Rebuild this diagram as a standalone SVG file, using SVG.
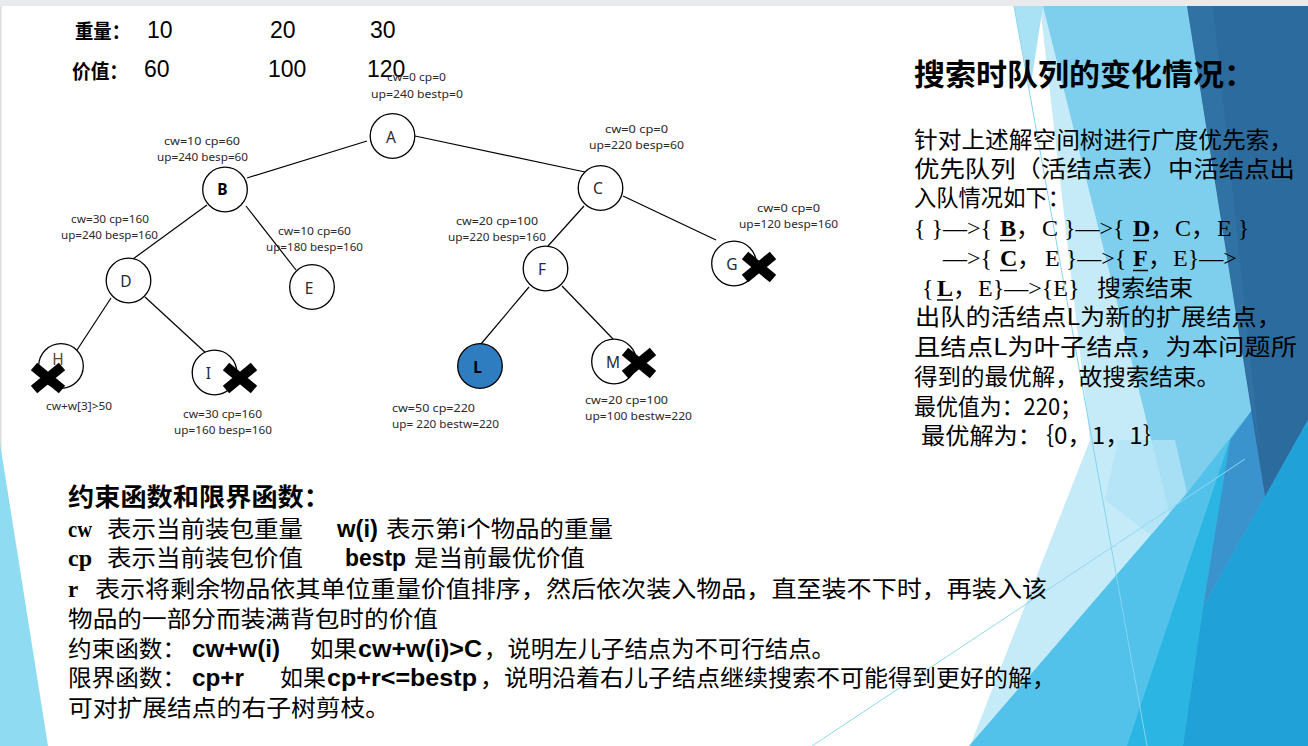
<svg xmlns="http://www.w3.org/2000/svg" xmlns:xlink="http://www.w3.org/1999/xlink" width="1308" height="746" viewBox="0 0 1308 746">
<style>
.ann{font-family:"Noto Sans","DejaVu Sans",sans-serif;font-size:11px;fill:#2a2a2a}
.lbl{font-family:"Noto Sans","DejaVu Sans",sans-serif;font-size:15.5px;fill:#262a33;text-anchor:middle}
.node circle{fill:#fff;stroke:#000;stroke-width:1.3}
.edges line{stroke:#000;stroke-width:1.2}
.cjk{font-family:"Noto Sans CJK SC",sans-serif;font-size:23px;fill:#000}
.tr{font-family:"Liberation Serif","Noto Sans CJK SC",serif;font-size:24px;fill:#000}
.sb{font-family:"Liberation Sans","Noto Sans CJK SC",sans-serif;font-weight:bold;font-size:23px;fill:#000}
.srb{font-family:"Liberation Serif",serif;font-weight:bold;font-size:23px;fill:#000}
.hd{font-family:"Noto Sans CJK SC",sans-serif;font-weight:bold;font-size:20px;fill:#000}
.num{font-family:"Liberation Sans","Noto Sans",sans-serif;font-size:23px;fill:#000}
.ul{stroke:#000;stroke-width:1.5}
</style>
<defs>
<g id="xm"><path d="M-14,-11.5 L14,11.5 M-14,11.5 L14,-11.5" stroke="#000" stroke-width="10" fill="none"/></g>
</defs>

<!-- background -->
<g id="background">
<rect x="0" y="0" width="1308" height="746" fill="#ffffff"/>
<rect x="0" y="0" width="1308" height="6" fill="#e9eaec"/>
<rect x="0" y="6" width="1.5" height="740" fill="#dcdcdc"/>
<polygon points="0,443 48,746 0,746" fill="#8fdbf2"/>
<polygon points="1040,6 1308,6 1308,746 970,746 1090,440" fill="#c6ebf8"/>
<polygon points="1014,6 1043,6 1030,90" fill="#a9e1f5"/>
<polygon points="1043,6 1187,6 1265,497 1170,515" fill="#7ecfee"/>
<polygon points="1118,440 1175,440 1187,493 1150,535 1105,500" fill="#b2e4f6" opacity="0.8"/>
<polygon points="969,746 1187,493 1252,410 1308,410 1308,746" fill="#52c2ea"/>
<polygon points="1127,746 1230,440 1203,607 1183,746" fill="#2bb5e3"/>
<polygon points="1203,607 1230,440 1252,410 1265,497" fill="#3a93cc"/>
<polygon points="1187,6 1308,6 1308,420 1265,497" fill="#2c6b9d"/>
<polygon points="1187,6 1213,6 1260,450 1252,410" fill="#3476a7" opacity="0.6"/>
<polygon points="1183,746 1203,607 1308,420 1308,746" fill="#20a1d8"/>
<line x1="1014" y1="6" x2="1147" y2="746" stroke="#86d3f0" stroke-width="1"/>
<line x1="812" y1="746" x2="1245" y2="459" stroke="#8fd7f1" stroke-width="1"/>
</g>

<!-- header -->
<g id="header">
<text class="hd" x="75" y="39" textLength="55" lengthAdjust="spacingAndGlyphs">重量：</text>
<text class="num" x="147" y="38">10</text>
<text class="num" x="270" y="38">20</text>
<text class="num" x="370" y="38">30</text>
<text class="hd" x="72" y="79" textLength="56" lengthAdjust="spacingAndGlyphs">价值：</text>
<text class="num" x="144" y="77">60</text>
<text class="num" x="268" y="77">100</text>
<text class="num" x="367" y="77">120</text>
</g>

<!-- connectors -->
<g id="connectors" class="edges">
<line x1="367" y1="141" x2="247" y2="178"/>
<line x1="415" y1="136" x2="585" y2="172"/>
<line x1="207" y1="205" x2="133" y2="259"/>
<line x1="246" y1="206" x2="296" y2="270"/>
<line x1="111" y1="298" x2="77" y2="350"/>
<line x1="145" y1="297" x2="208" y2="355"/>
<line x1="584" y1="206" x2="548" y2="246"/>
<line x1="623" y1="196" x2="716" y2="240"/>
<line x1="529" y1="287" x2="481" y2="344"/>
<line x1="562" y1="286" x2="613" y2="339"/>
</g>

<!-- nodes -->
<g id="node-A" class="node"><circle cx="392.5" cy="136" r="22.3"/><text class="lbl" x="391" y="142.5">A</text></g>
<g id="node-B" class="node"><circle cx="225" cy="189.5" r="22.3"/><text class="lbl" x="222.5" y="195" font-weight="bold" style="fill:#000">B</text></g>
<g id="node-C" class="node"><circle cx="600.5" cy="188" r="22.3"/><text class="lbl" x="598" y="194">C</text></g>
<g id="node-D" class="node"><circle cx="128.5" cy="280.5" r="22.3"/><text class="lbl" x="126" y="287">D</text></g>
<g id="node-E" class="node"><circle cx="312" cy="287" r="22.3"/><text class="lbl" x="309" y="294">E</text></g>
<g id="node-F" class="node"><circle cx="545.5" cy="268.5" r="22.3"/><text class="lbl" x="542" y="275">F</text></g>
<g id="node-G" class="node"><circle cx="734" cy="263.5" r="22.3"/><text class="lbl" x="732" y="270">G</text><use xlink:href="#xm" href="#xm" x="759" y="267"/></g>
<g id="node-H" class="node"><circle cx="61" cy="366" r="22.3"/><text class="lbl" x="58" y="365" style="fill:#5c4a1c">H</text><use xlink:href="#xm" href="#xm" x="48" y="378"/></g>
<g id="node-I" class="node"><circle cx="214.5" cy="372.5" r="22.3"/><text class="lbl" x="208.5" y="379">I</text><use xlink:href="#xm" href="#xm" x="240" y="378"/></g>
<g id="node-L" class="node"><circle cx="480" cy="366" r="22.3" style="fill:#2e7dc0"/><text class="lbl" x="477.5" y="373" font-weight="bold" style="fill:#000">L</text></g>
<g id="node-M" class="node"><circle cx="614" cy="361.5" r="22.3"/><text class="lbl" x="613" y="368">M</text><use xlink:href="#xm" href="#xm" x="639" y="363"/></g>

<!-- annotations -->
<g id="annotations">
<text class="ann" x="387" y="81" textLength="59" lengthAdjust="spacingAndGlyphs">cw=0 cp=0</text>
<text class="ann" x="371" y="98" textLength="92" lengthAdjust="spacingAndGlyphs">up=240  bestp=0</text>
<text class="ann" x="164" y="145" textLength="76" lengthAdjust="spacingAndGlyphs">cw=10  cp=60</text>
<text class="ann" x="157" y="161" textLength="91" lengthAdjust="spacingAndGlyphs">up=240 besp=60</text>
<text class="ann" x="71" y="223" textLength="78" lengthAdjust="spacingAndGlyphs">cw=30 cp=160</text>
<text class="ann" x="61" y="239" textLength="97" lengthAdjust="spacingAndGlyphs">up=240 besp=160</text>
<text class="ann" x="278" y="235" textLength="73" lengthAdjust="spacingAndGlyphs">cw=10 cp=60</text>
<text class="ann" x="266" y="251" textLength="97" lengthAdjust="spacingAndGlyphs">up=180 besp=160</text>
<text class="ann" x="46" y="410" textLength="66" lengthAdjust="spacingAndGlyphs">cw+w[3]&gt;50</text>
<text class="ann" x="183" y="418" textLength="79" lengthAdjust="spacingAndGlyphs">cw=30 cp=160</text>
<text class="ann" x="174" y="434" textLength="98" lengthAdjust="spacingAndGlyphs">up=160 besp=160</text>
<text class="ann" x="605" y="133" textLength="63" lengthAdjust="spacingAndGlyphs">cw=0  cp=0</text>
<text class="ann" x="589" y="149" textLength="95" lengthAdjust="spacingAndGlyphs">up=220  besp=60</text>
<text class="ann" x="456" y="225" textLength="82" lengthAdjust="spacingAndGlyphs">cw=20  cp=100</text>
<text class="ann" x="448" y="241" textLength="98" lengthAdjust="spacingAndGlyphs">up=220 besp=160</text>
<text class="ann" x="757" y="212" textLength="63" lengthAdjust="spacingAndGlyphs">cw=0  cp=0</text>
<text class="ann" x="739" y="228" textLength="99" lengthAdjust="spacingAndGlyphs">up=120 besp=160</text>
<text class="ann" x="392" y="412" textLength="83" lengthAdjust="spacingAndGlyphs">cw=50  cp=220</text>
<text class="ann" x="392" y="428" textLength="107" lengthAdjust="spacingAndGlyphs">up= 220 bestw=220</text>
<text class="ann" x="585" y="404" textLength="83" lengthAdjust="spacingAndGlyphs">cw=20  cp=100</text>
<text class="ann" x="585" y="420" textLength="107" lengthAdjust="spacingAndGlyphs">up=100  bestw=220</text>
</g>

<!-- right panel -->
<g id="queue-panel">
<text x="914" y="85" font-family="'Noto Sans CJK SC',sans-serif" font-weight="bold" font-size="30" textLength="341" lengthAdjust="spacingAndGlyphs">搜索时队列的变化情况：</text>
<text class="cjk" x="914" y="148" textLength="379" lengthAdjust="spacingAndGlyphs">针对上述解空间树进行广度优先索，</text>
<text class="cjk" x="914" y="177" textLength="381" lengthAdjust="spacingAndGlyphs">优先队列（活结点表）中活结点出</text>
<text class="cjk" x="914" y="206" textLength="156" lengthAdjust="spacingAndGlyphs">入队情况如下：</text>
<text class="tr" y="236"><tspan x="914">{ }—&gt;{</tspan><tspan x="1000" font-weight="bold">B</tspan><tspan x="1016">，</tspan><tspan x="1042">C }—&gt;{</tspan><tspan x="1133" font-weight="bold">D</tspan><tspan x="1150">，</tspan><tspan x="1175">C</tspan><tspan x="1191">，</tspan><tspan x="1217">E }</tspan></text>
<text class="tr" y="266"><tspan x="943">—&gt;{</tspan><tspan x="1000" font-weight="bold">C</tspan><tspan x="1017">，</tspan><tspan x="1045">E }—&gt;{</tspan><tspan x="1133" font-weight="bold">F</tspan><tspan x="1148">，</tspan><tspan x="1173">E}—&gt;</tspan></text>
<text class="tr" y="296"><tspan x="922">{</tspan><tspan x="937" font-weight="bold">L</tspan><tspan x="953">，</tspan><tspan x="978">E}—&gt;{E}</tspan></text>
<text class="cjk" x="1097" y="296" textLength="96" lengthAdjust="spacingAndGlyphs">搜索结束</text>
<line class="ul" x1="1000" y1="240.5" x2="1016" y2="240.5"/>
<line class="ul" x1="1133" y1="240.5" x2="1149" y2="240.5"/>
<line class="ul" x1="1000" y1="270.5" x2="1017" y2="270.5"/>
<line class="ul" x1="1133" y1="270.5" x2="1148" y2="270.5"/>
<line class="ul" x1="937" y1="300" x2="953" y2="300"/>
<text class="cjk" x="915" y="325" textLength="367" lengthAdjust="spacingAndGlyphs">出队的活结点L为新的扩展结点，</text>
<text class="cjk" x="914" y="355" textLength="383" lengthAdjust="spacingAndGlyphs">且结点L为叶子结点，为本问题所</text>
<text class="cjk" x="914" y="385" textLength="306" lengthAdjust="spacingAndGlyphs">得到的最优解，故搜索结束。</text>
<text class="cjk" x="914" y="415" textLength="168" lengthAdjust="spacingAndGlyphs">最优值为：220；</text>
<text class="cjk" x="921" y="444" textLength="246" lengthAdjust="spacingAndGlyphs">最优解为：｛0，1，1｝</text>
</g>

<!-- bottom text -->
<g id="functions-text">
<text x="68" y="506" font-family="'Noto Sans CJK SC',sans-serif" font-weight="bold" font-size="25" textLength="262" lengthAdjust="spacingAndGlyphs">约束函数和限界函数：</text>
<text class="srb" x="68" y="537" textLength="24" lengthAdjust="spacingAndGlyphs">cw</text>
<text class="cjk" x="107" y="537" textLength="196" lengthAdjust="spacingAndGlyphs">表示当前装包重量</text>
<text class="sb" x="337" y="537" textLength="41" lengthAdjust="spacingAndGlyphs">w(i)</text>
<text class="cjk" x="386" y="537" textLength="227" lengthAdjust="spacingAndGlyphs">表示第i个物品的重量</text>
<text class="srb" x="68" y="566" textLength="24" lengthAdjust="spacingAndGlyphs">cp</text>
<text class="cjk" x="107" y="566" textLength="196" lengthAdjust="spacingAndGlyphs">表示当前装包价值</text>
<text class="sb" x="345" y="566" textLength="61" lengthAdjust="spacingAndGlyphs">bestp</text>
<text class="cjk" x="414" y="566" textLength="171" lengthAdjust="spacingAndGlyphs">是当前最优价值</text>
<text class="srb" x="68" y="597">r</text>
<text class="cjk" x="95" y="597" textLength="952" lengthAdjust="spacingAndGlyphs">表示将剩余物品依其单位重量价值排序，然后依次装入物品，直至装不下时，再装入该</text>
<text class="cjk" x="68" y="627" textLength="370" lengthAdjust="spacingAndGlyphs">物品的一部分而装满背包时的价值</text>
<text class="cjk" x="68" y="657" textLength="118" lengthAdjust="spacingAndGlyphs">约束函数：</text>
<text class="sb" x="192" y="657" textLength="88" lengthAdjust="spacingAndGlyphs">cw+w(i)</text>
<text class="cjk" x="310" y="657" textLength="47" lengthAdjust="spacingAndGlyphs">如果</text>
<text class="sb" x="358" y="657" textLength="124" lengthAdjust="spacingAndGlyphs">cw+w(i)&gt;C</text>
<text class="cjk" x="484" y="657" textLength="351" lengthAdjust="spacingAndGlyphs">，说明左儿子结点为不可行结点。</text>
<text class="cjk" x="68" y="686" textLength="118" lengthAdjust="spacingAndGlyphs">限界函数：</text>
<text class="sb" x="192" y="686" textLength="52" lengthAdjust="spacingAndGlyphs">cp+r</text>
<text class="cjk" x="280" y="686" textLength="46" lengthAdjust="spacingAndGlyphs">如果</text>
<text class="sb" x="327" y="686" textLength="150" lengthAdjust="spacingAndGlyphs">cp+r&lt;=bestp</text>
<text class="cjk" x="480" y="686" textLength="576" lengthAdjust="spacingAndGlyphs">，说明沿着右儿子结点继续搜索不可能得到更好的解，</text>
<text class="cjk" x="68" y="716" textLength="322" lengthAdjust="spacingAndGlyphs">可对扩展结点的右子树剪枝。</text>
</g>
</svg>
